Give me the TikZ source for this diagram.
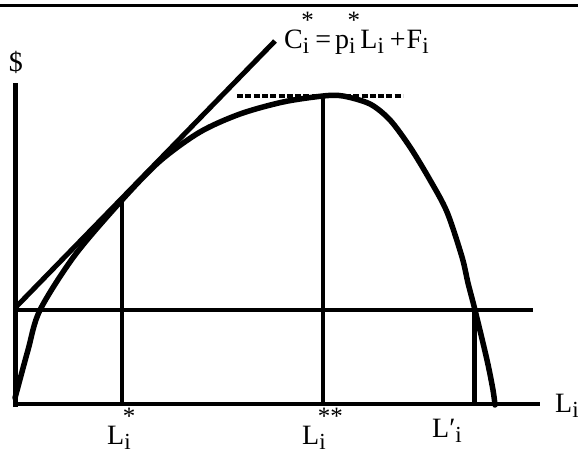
\documentclass[tikz,border=0pt]{standalone}
\usepackage{fontspec}
\setmainfont{Liberation Serif}
\newcommand\smf{\fontsize{25}{25}\selectfont}
\newcommand\smi{\fontsize{23}{23}\selectfont}
\newcommand\ix[1]{\rlap{\hspace{-1.5pt}\raisebox{20pt}{\smf #1}}\raisebox{-5pt}{\smi i}}
\newcommand\sbi{\raisebox{-5pt}{\smi i}}
\tikzset{
  axisline/.style={line width=4.8pt},
  thinv/.style={line width=3.4pt},
  curveline/.style={line width=5.5pt, line join=round, line cap=round},
  dotline/.style={line width=4.5pt, dash pattern=on 6pt off 2.3pt},
  lab/.style={inner sep=0pt, font=\fontsize{28}{30}\selectfont},
}
\begin{document}
\begin{tikzpicture}[x=1pt,y=-1pt]
\useasboundingbox (0,0) rectangle (578,454);
\fill[white] (0,0) rectangle (578,454);
% top rule
\coordinate (rl) at (0,5.5);
\coordinate (rr) at (578,5.5);
\draw[line width=3pt] (rl) -- (rr);
% axes
\coordinate (ybot) at (15.5,407);
\coordinate (ytop) at (15.5,83);
\coordinate (xbeg) at (13,404);
\coordinate (xend) at (540,404);
\draw[axisline] (ybot) -- (ytop);
\draw[axisline] (xbeg) -- (xend);
% fixed cost line
\coordinate (fl) at (13,310);
\coordinate (fr) at (533,310);
\draw[axisline] (fl) -- (fr);
% tangent line
\coordinate (t0) at (16,307);
\coordinate (t1) at (275,41);
\draw[line width=5pt] (t0) -- (t1);
% verticals
\coordinate (a0) at (122,404); \coordinate (a1) at (122,199);
\coordinate (b0) at (323,404); \coordinate (b1) at (323,96);
\coordinate (c0) at (474.5,404); \coordinate (c1) at (474.5,310);
\draw[thinv] (a0) -- (a1);
\draw[thinv] (b0) -- (b1);
\draw[axisline] (c0) -- (c1);
% dotted line
\coordinate (d0) at (237,96); \coordinate (d1) at (403,96);
\draw[dotline] (d0) -- (d1);
% curve
\draw[curveline] plot[smooth, tension=0.5] coordinates {
 (15,398) (28,350) (40,310) (75,255) (122,200) (160,161) (200,132) (240,114)
 (283,102) (323,96) (343,96) (370,104) (390,120) (410,147) (430,180) (447,212)
 (462,257) (468,283) (475,310) (487,360) (493,390) (495,405)};
% labels
\node[lab] (dollar) at (16,62) {\$};
\node[lab, anchor=base west] (cst) at (284,49) {C\ix{*}\hspace{6pt}=\hspace{4pt}p\ix{*}\hspace{5pt}L\sbi\hspace{6pt}+\hspace{1pt}F\sbi};
\node[lab, anchor=base west] (li) at (555,412) {L\sbi};
\node[lab, anchor=base west] (lstar) at (107,444) {L\ix{*}};
\node[lab, anchor=base west] (lss) at (302,444) {L\ix{**}};
\node[lab, anchor=base west] (lp) at (432,437) {L′\sbi};
\end{tikzpicture}
\end{document}
